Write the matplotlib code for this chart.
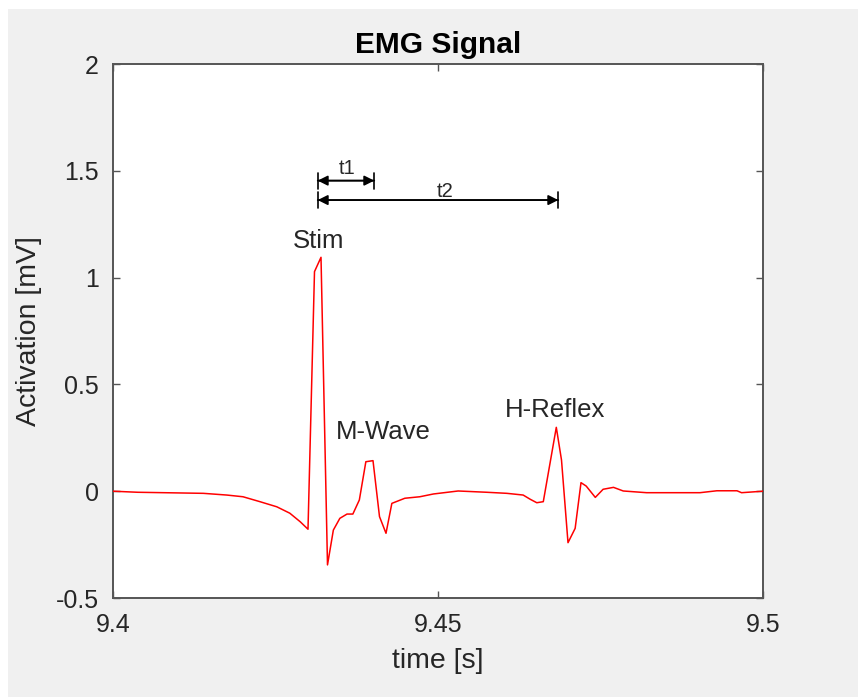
import numpy as np
import matplotlib.pyplot as plt
from matplotlib.patches import Rectangle

plt.rcParams['font.family'] = ['Liberation Sans', 'DejaVu Sans']
plt.rcParams['axes.unicode_minus'] = False

# signal (time in s, activation in mV)
t = [9.400, 9.4038, 9.4139, 9.4175, 9.4200, 9.4226, 9.4252, 9.4272, 9.4288, 9.4300,
     9.4310, 9.4320, 9.4330, 9.4339, 9.4349, 9.4360, 9.4369, 9.4379, 9.4389, 9.4400,
     9.4410, 9.4420, 9.4429, 9.4449, 9.4472, 9.4493, 9.4531, 9.4575, 9.4606, 9.4631,
     9.4642, 9.4652, 9.4662, 9.4682, 9.4690, 9.4700, 9.4711, 9.4720, 9.4728, 9.4742,
     9.4754, 9.4770, 9.4785, 9.4821, 9.4903, 9.4929, 9.4960, 9.4967, 9.500]
v = [0, -0.005, -0.010, -0.018, -0.026, -0.049, -0.073, -0.103, -0.143, -0.178,
     1.028, 1.095, -0.345, -0.182, -0.127, -0.107, -0.107, -0.041, 0.138, 0.143,
     -0.119, -0.197, -0.057, -0.033, -0.026, -0.013, 0.001, -0.005, -0.010, -0.018,
     -0.038, -0.054, -0.049, 0.299, 0.146, -0.241, -0.174, 0.040, 0.024, -0.029,
     0.009, 0.018, 0.001, -0.007, -0.007, 0.002, 0.002, -0.007, 0]

xticks = [9.4, 9.45, 9.5]
xtick_labels = ['9.4', '9.45', '9.5']
yticks = [-0.5, 0, 0.5, 1, 1.5, 2]
ytick_labels = ['-0.5', '0', '0.5', '1', '1.5', '2']

# peak labels: (text, x, baseline y)
peak_labels = [('Stim', 9.42765, 1.139), ('M-Wave', 9.43431, 0.244), ('H-Reflex', 9.46031, 0.349)]

# latency markers: (label, start, end, line y, label x, label baseline y)
latencies = [('t1', 9.43149, 9.44020, 1.454, 9.43608, 1.484),
             ('t2', 9.43149, 9.46851, 1.363, 9.45108, 1.376)]

W, H = 858, 697
fig = plt.figure(figsize=(W / 100, H / 100), dpi=100)
fig.patch.set_facecolor('white')
fig.patches.append(Rectangle((8 / W, 0), 1, (H - 9) / H, transform=fig.transFigure,
                             facecolor='#f0f0f0', edgecolor='none', zorder=-1))

ax = fig.add_axes([113 / W, 99 / H, 650 / W, 534 / H])
ax.plot(t, v, color='red', lw=1.1, zorder=3)

ax.set_xlim(9.4, 9.5)
ax.set_ylim(-0.5, 2)
ax.set_xticks(xticks)
ax.set_xticklabels(xtick_labels)
ax.set_yticks(yticks)
ax.set_yticklabels(ytick_labels)

axcol = '#555555'
for s in ax.spines.values():
    s.set_color(axcol)
    s.set_linewidth(1.4)
ax.tick_params(direction='in', top=True, right=True, length=5, width=1.0,
               color=axcol, labelcolor='#262626', labelsize=18)
ax.tick_params(axis='x', pad=11)
ax.tick_params(axis='y', pad=10)

ax.set_title('EMG Signal', fontsize=21.5, fontweight='bold', color='black', pad=8)
ax.set_xlabel('time [s]', fontsize=20.5, color='#262626')
ax.set_ylabel('Activation [mV]', fontsize=20.5, color='#262626')
ax.xaxis.set_label_coords(0.5, -0.094)
ax.yaxis.set_label_coords(-0.110, 0.5)

for txt, x, y in peak_labels:
    ax.text(x, y, txt, fontsize=18.5, color='#262626', ha='left', va='baseline')

for lab, x0, x1, y, lx, ly in latencies:
    ax.annotate('', xy=(x1, y), xytext=(x0, y),
                arrowprops=dict(arrowstyle='|-|,widthA=0.58,widthB=0.58', lw=1.2,
                                color='black', shrinkA=0, shrinkB=0, mutation_scale=10))
    ax.annotate('', xy=(x1, y), xytext=(x0, y),
                arrowprops=dict(arrowstyle='<|-|>,head_length=0.6,head_width=0.3', lw=1.2,
                                color='black', shrinkA=0, shrinkB=0, mutation_scale=10))
    ax.text(lx, ly, lab, fontsize=14.5, color='#262626', ha='center', va='baseline')

fig.savefig('out.png', dpi=100)
